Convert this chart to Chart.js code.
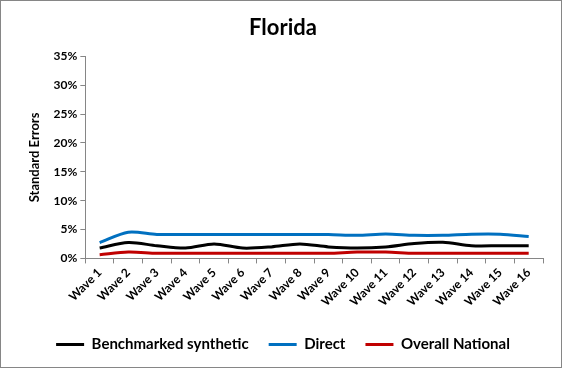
<!DOCTYPE html>
<html>
<head>
<meta charset="utf-8">
<script src="https://cdn.jsdelivr.net/npm/chart.js@4"></script>
<style>
  body { margin: 0; background: #fff; }
  #wrap { width: 562px; height: 368px; box-sizing: border-box; border: 1px solid #868686; position: relative; }
</style>
</head>
<body>
<div id="wrap"><canvas id="chart"></canvas></div>
<script>
const waves = ['Wave 1', 'Wave 2', 'Wave 3', 'Wave 4', 'Wave 5', 'Wave 6', 'Wave 7', 'Wave 8',
  'Wave 9', 'Wave 10', 'Wave 11', 'Wave 12', 'Wave 13', 'Wave 14', 'Wave 15', 'Wave 16'];
const benchmarked = [1.8, 2.75, 2.2, 1.8, 2.5, 1.8, 2.0, 2.5, 2.0, 1.8, 2.0, 2.6, 2.8, 2.2, 2.2, 2.2];
const direct = [2.75, 4.55, 4.15, 4.15, 4.15, 4.15, 4.15, 4.15, 4.15, 4.0, 4.25, 4.0, 4.0, 4.2, 4.2, 3.8];
const national = [0.65, 1.1, 0.9, 0.9, 0.9, 0.9, 0.9, 0.9, 0.9, 1.1, 1.1, 0.9, 0.9, 0.9, 0.9, 0.9];
const yTicks = [0, 5, 10, 15, 20, 25, 30, 35];

const fontFam = 'Lato, "Open Sans", sans-serif';
const axisColor = '#868686';

function serie(label, data, color) {
  return {
    label,
    data,
    borderColor: color,
    backgroundColor: color,
    borderWidth: 3,
    pointRadius: 0,
    tension: 0.3
  };
}

new Chart(document.getElementById('chart'), {
  type: 'line',
  data: {
    labels: waves,
    datasets: [
      serie('Benchmarked synthetic', benchmarked, '#000000'),
      serie('Direct', direct, '#0070C0'),
      serie('Overall National', national, '#C00000')
    ]
  },
  options: {
    responsive: true,
    maintainAspectRatio: false,
    animation: false,
    layout: { padding: { left: 22, right: 18, top: 4, bottom: 5 } },
    plugins: {
      title: {
        display: true,
        text: 'Florida',
        color: '#000',
        font: { family: fontFam, size: 22, weight: 'bold' },
        padding: { top: 10, bottom: 15 }
      },
      legend: {
        position: 'bottom',
        labels: {
          color: '#000',
          font: { family: fontFam, size: 15, weight: 'bold' },
          usePointStyle: true,
          pointStyle: 'line',
          pointStyleWidth: 28,
          padding: 20
        }
      },
      tooltip: { enabled: false }
    },
    scales: {
      x: {
        offset: true,
        grid: { display: true, drawOnChartArea: false, offset: true, tickLength: 5, color: axisColor },
        border: { color: axisColor },
        ticks: {
          color: '#000',
          font: { family: fontFam, size: 12, weight: 'bold' },
          maxRotation: 45,
          minRotation: 45,
          autoSkip: false,
          padding: 2
        },
        afterFit: axis => { axis.height += 6; }
      },
      y: {
        min: 0,
        max: 35,
        afterBuildTicks: axis => { axis.ticks = yTicks.map(v => ({ value: v })); },
        grid: { display: true, drawOnChartArea: false, tickLength: 5, color: axisColor },
        border: { color: axisColor },
        title: {
          display: true,
          text: 'Standard Errors',
          color: '#000',
          font: { family: fontFam, size: 13, weight: 'bold' },
          padding: { bottom: 8 }
        },
        ticks: {
          color: '#000',
          font: { family: fontFam, size: 12, weight: 'bold' },
          callback: v => v + '%'
        }
      }
    }
  }
});
</script>
</body>
</html>
